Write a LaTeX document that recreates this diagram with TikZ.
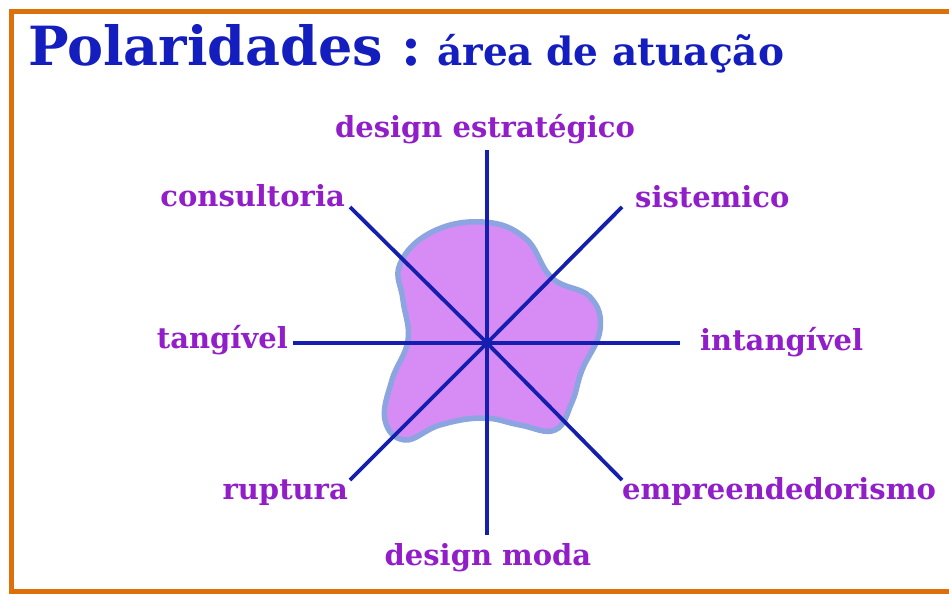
\documentclass[tikz,border=0pt]{standalone}
\usepackage{fontspec}
\setmainfont{DejaVu Serif}
\definecolor{lbl}{RGB}{145,30,200}
\definecolor{ttl}{RGB}{20,30,190}
\definecolor{axis}{RGB}{20,30,175}
\definecolor{frame}{RGB}{222,112,12}
\definecolor{blobfill}{RGB}{215,140,245}
\definecolor{blobline}{RGB}{140,165,225}
\tikzset{
  lab/.style={text=lbl, font=\bfseries\fontsize{29}{33}\selectfont, inner sep=0pt},
  ax/.style={draw=axis, line width=3.8pt},
}
\begin{document}
\begin{tikzpicture}[x=1pt,y=-1pt]
\useasboundingbox (0,0) rectangle (949,594);
\fill[white] (0,0) rectangle (949,594);
\draw[frame, line width=5pt] (949,12) -- (11,12) -- (11,591) -- (949,591);
% title
\node[anchor=base west, text=ttl, inner sep=0pt, font=\bfseries\fontsize{54}{60}\selectfont] (t1) at (28,65) {Polaridades :};
\node[anchor=base west, text=ttl, inner sep=0pt, font=\bfseries\fontsize{39}{44}\selectfont] (t2) at (437,65) {área de atuação};
% blob
\filldraw[fill=blobfill, draw=blobline, line width=5.5pt]
  plot[smooth cycle, tension=0.7] coordinates {(483,222) (525,238) (552,278) (590,297) (600,330) (582,370) (572,402) (555,430) (520,425) (483,418) (440,425) (405,440) (385,420) (392,380) (408,340) (403,300) (400,264) (432,232)};
% center and labels
\coordinate (c) at (487,343);
\node[lab, anchor=base] (n) at (485,137) {design estratégico};
\node[lab, anchor=base] (s) at (488,565) {design moda};
\node[lab, anchor=base east] (w) at (288,348) {tangível};
\node[lab, anchor=base west] (e) at (700,350) {intangível};
\node[lab, anchor=base east] (nw) at (345,206) {consultoria};
\node[lab, anchor=base west] (ne) at (635,207) {sistemico};
\node[lab, anchor=base east] (sw) at (348,499) {ruptura};
\node[lab, anchor=base west] (se) at (622,499) {empreendedorismo};
\coordinate (pn) at (487,150);
\coordinate (ps) at (487,535);
\coordinate (pw) at (293,343);
\coordinate (pe) at (680,343);
\coordinate (pnw) at (350,207);
\coordinate (pne) at (622,207);
\coordinate (psw) at (350,480);
\coordinate (pse) at (622,480);
\foreach \p in {pn,ps,pw,pe,pnw,pne,psw,pse} \draw[ax] (c) -- (\p);
\fill[axis] (c) circle (4pt);
\end{tikzpicture}
\end{document}
